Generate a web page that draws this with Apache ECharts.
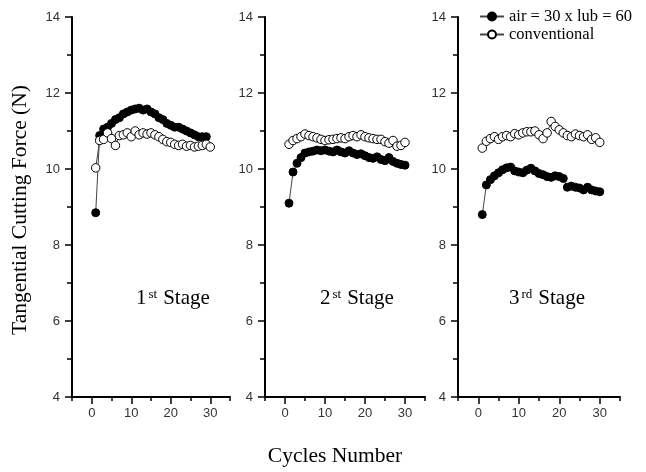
<!DOCTYPE html>
<html><head><meta charset="utf-8">
<script src="https://cdn.jsdelivr.net/npm/echarts@6/dist/echarts.min.js"></script>
<style>html,body{margin:0;padding:0;background:#fff}#c{width:646px;height:472px}</style>
</head><body><div id="c"></div>
<script>
const cycles = [1,2,3,4,5,6,7,8,9,10,11,12,13,14,15,16,17,18,19,20,21,22,23,24,25,26,27,28,29,30];
const seriesNames = ['air = 30 x lub = 60', 'conventional'];
const xTickLabels = [0, 10, 20, 30];
const xMinorTicks = [-5, 5, 15, 25, 35];
const stageLabels = [['1','st'], ['2','st'], ['3','rd']];

const air1 = [8.85,10.88,11.05,11.1,11.2,11.3,11.35,11.45,11.5,11.55,11.58,11.6,11.55,11.58,11.5,11.45,11.35,11.3,11.2,11.15,11.1,11.1,11.05,11.0,10.95,10.9,10.85,10.85,10.85];
const conv1 = [10.03,10.75,10.78,10.95,10.8,10.62,10.88,10.9,10.95,10.85,11.0,10.9,10.95,10.92,10.95,10.9,10.85,10.78,10.72,10.7,10.65,10.62,10.65,10.6,10.62,10.58,10.6,10.62,10.65,10.58];
const air2 = [9.1,9.92,10.15,10.3,10.42,10.45,10.47,10.5,10.48,10.5,10.47,10.45,10.5,10.45,10.42,10.48,10.42,10.38,10.4,10.35,10.3,10.28,10.32,10.25,10.22,10.3,10.2,10.15,10.12,10.1];
const conv2 = [10.65,10.75,10.8,10.85,10.92,10.88,10.85,10.82,10.78,10.75,10.77,10.78,10.8,10.82,10.8,10.85,10.88,10.85,10.9,10.85,10.82,10.8,10.78,10.78,10.72,10.68,10.75,10.6,10.62,10.7];
const air3 = [8.8,9.58,9.72,9.82,9.9,9.98,10.03,10.05,9.95,9.92,9.9,9.97,10.02,9.95,9.88,9.85,9.8,9.78,9.82,9.8,9.75,9.52,9.55,9.52,9.5,9.45,9.52,9.45,9.42,9.4];
const conv3 = [10.55,10.73,10.8,10.85,10.78,10.85,10.88,10.85,10.93,10.9,10.95,10.98,10.98,11.0,10.9,10.8,10.95,11.25,11.12,11.03,10.95,10.88,10.85,10.92,10.88,10.85,10.9,10.78,10.82,10.7];

const airData = [air1, air2, air3];
const convData = [conv1, conv2, conv3];

const grids = [
  {left: 72, top: 17, width: 158, height: 380},
  {left: 265, top: 17, width: 160, height: 380},
  {left: 458, top: 17, width: 162, height: 380}
];

const serif = '"Liberation Serif", "Times New Roman", serif';
const sans = '"Liberation Sans", Arial, sans-serif';

const xAxes = [], yAxes = [], series = [];
grids.forEach((g, i) => {
  xAxes.push({
    type: 'value', gridIndex: i, min: -5, max: 35, position: 'bottom',
    axisLine: {show: true, onZero: false, lineStyle: {color: '#000', width: 2}},
    axisTick: {show: true, customValues: xTickLabels, length: 7, lineStyle: {color: '#000', width: 1.5}},
    axisLabel: {show: true, customValues: xTickLabels, margin: 10, color: '#333', fontFamily: sans, fontSize: 13},
    splitLine: {show: false}
  });
  xAxes.push({
    type: 'value', gridIndex: i, min: -5, max: 35, position: 'bottom', offset: 0,
    axisLine: {show: false, onZero: false},
    axisTick: {show: true, customValues: xMinorTicks, length: 4, lineStyle: {color: '#000', width: 1.5}},
    axisLabel: {show: false},
    splitLine: {show: false}
  });
  yAxes.push({
    type: 'value', gridIndex: i, min: 4, max: 14, interval: 2, position: 'left',
    axisLine: {show: true, onZero: false, lineStyle: {color: '#000', width: 2}},
    axisTick: {show: true, length: 7, lineStyle: {color: '#000', width: 1.5}},
    minorTick: {show: true, splitNumber: 2, length: 5, lineStyle: {color: '#000', width: 1.5}},
    axisLabel: {margin: 12, color: '#333', fontFamily: sans, fontSize: 13},
    splitLine: {show: false}, minorSplitLine: {show: false}
  });
  series.push({
    name: seriesNames[0], type: 'line', xAxisIndex: 2*i, yAxisIndex: i,
    data: airData[i].map((v, k) => [cycles[k], v]),
    symbol: 'circle', symbolSize: 8,
    lineStyle: {color: '#444', width: 1},
    itemStyle: {color: '#000', borderColor: '#000', borderWidth: 1},
    animation: false
  });
  series.push({
    name: seriesNames[1], type: 'line', xAxisIndex: 2*i, yAxisIndex: i,
    data: convData[i].map((v, k) => [cycles[k], v]),
    symbol: 'circle', symbolSize: 8.5,
    lineStyle: {color: '#444', width: 1},
    itemStyle: {color: '#fff', borderColor: '#000', borderWidth: 1},
    animation: false
  });
});

const stageX = [136, 320, 509];
const graphics = stageLabels.map((s, i) => ({
  type: 'text', left: stageX[i], top: 288,
  style: {
    text: '{n|' + s[0] + '}{s|' + s[1] + '}{m|Stage}',
    rich: {
      n: {fontFamily: serif, fontSize: 21, color: '#000'},
      s: {fontFamily: serif, fontSize: 13, color: '#000', verticalAlign: 'top', padding: [0, 6, 0, 2]},
      m: {fontFamily: serif, fontSize: 21, color: '#000'}
    }
  }
}));
graphics.push({
  type: 'text', x: 20, y: 210, rotation: Math.PI / 2,
  style: {text: 'Tangential Cutting Force (N)', fontFamily: serif, fontSize: 21.5, fill: '#000', align: 'center', verticalAlign: 'middle'}
});
graphics.push({
  type: 'text', x: 335, y: 456,
  style: {text: 'Cycles Number', fontFamily: serif, fontSize: 21.5, fill: '#000', align: 'center', verticalAlign: 'middle'}
});

const chart = echarts.init(document.getElementById('c'), null, {renderer: 'canvas'});
chart.setOption({
  backgroundColor: '#fff',
  animation: false,
  grid: grids,
  xAxis: xAxes,
  yAxis: yAxes,
  legend: {
    data: seriesNames, orient: 'vertical', left: 474, top: 3,
    itemWidth: 24, itemHeight: 10, itemGap: 1,
    textStyle: {fontFamily: serif, fontSize: 16.5, color: '#000'}
  },
  graphic: graphics,
  series: series
});
</script></body></html>
